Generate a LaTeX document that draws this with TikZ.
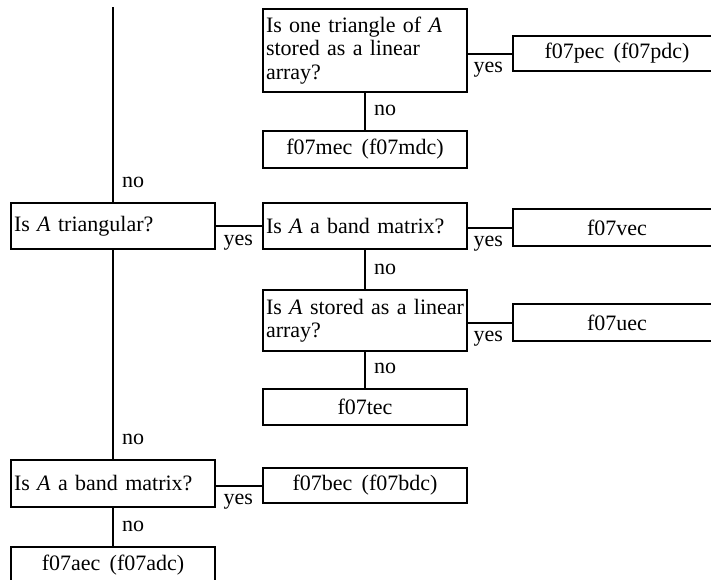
\documentclass[tikz,border=0pt]{standalone}
\usepackage{fontspec}
\setmainfont[WordSpace=1.7]{Liberation Serif}
\usepackage{tikz}
\hyphenpenalty=10000

\begin{document}
\begin{tikzpicture}[x=0.5pt,y=-0.5pt,line width=1pt,
  font=\fontsize{11}{11.75}\selectfont,
  qbox/.style={draw,anchor=north west,text width=99pt,inner xsep=1.5pt,align=left},
  rbox/.style={draw,anchor=north west,minimum width=102pt,inner sep=0pt},
  nolabel/.style={anchor=south west,inner sep=0pt,xshift=4pt,yshift=6.5pt},
  yeslabel/.style={anchor=base east,inner sep=0pt,xshift=-4pt,yshift=-9.5pt}]

\clip (0,0) rectangle (711,579);

% questions, left column
\node[qbox,minimum height=23pt] (tri) at (10,202) {Is \textit{A} triangular?};
\node[qbox,minimum height=23.5pt] (band2) at (10,459) {Is \textit{A} a band matrix?};
\node[rbox,minimum height=18.5pt] (aec) at (10,546) {f07aec (f07adc)};

% middle column
\node[qbox,minimum height=41.5pt] (q1) at (262,8) {Is one triangle of \textit{A}\\ stored as a linear\\ array?};
\node[rbox,minimum height=18.5pt] (mec) at (262,130) {f07mec (f07mdc)};
\node[qbox,minimum height=23pt] (band1) at (262,202) {Is \textit{A} a band matrix?};
\node[qbox,minimum height=30.5pt] (stored) at (262,289) {\mbox{Is \textit{A} stored as a linear}\\ array?};
\node[rbox,minimum height=18pt] (tec) at (262,388) {f07tec};
\node[rbox,minimum height=17.5pt] (bec) at (262,467) {f07bec (f07bdc)};

% right column
\node[rbox,minimum width=104pt,minimum height=17.5pt] (pec) at (512,35) {f07pec (f07pdc)};
\node[rbox,minimum width=104pt,minimum height=18.5pt] (vec) at (512,208) {f07vec};
\node[rbox,minimum width=104pt,minimum height=18.5pt] (uec) at (512,303) {f07uec};

% main line
\coordinate (top) at (113,7);
\draw (top) -- (tri.north) node[nolabel] {no};
\draw (tri.south) -- (band2.north) node[nolabel] {no};
\draw (band2.south) -- (aec.north) node[nolabel] {no};

% no branches
\draw (q1.south) -- (mec.north) node[nolabel] {no};
\draw (band1.south) -- (stored.north) node[nolabel] {no};
\draw (stored.south) -- (tec.north) node[nolabel] {no};

% yes branches
\draw (q1.east |- pec.west) -- (pec.west) node[yeslabel] {yes};
\draw (tri.east |- band1.west) -- (band1.west) node[yeslabel] {yes};
\draw (band1.east |- vec.west) -- (vec.west) node[yeslabel] {yes};
\draw (stored.east |- uec.west) -- (uec.west) node[yeslabel] {yes};
\draw (band2.east |- bec.west) -- (bec.west) node[yeslabel] {yes};

\end{tikzpicture}
\end{document}
